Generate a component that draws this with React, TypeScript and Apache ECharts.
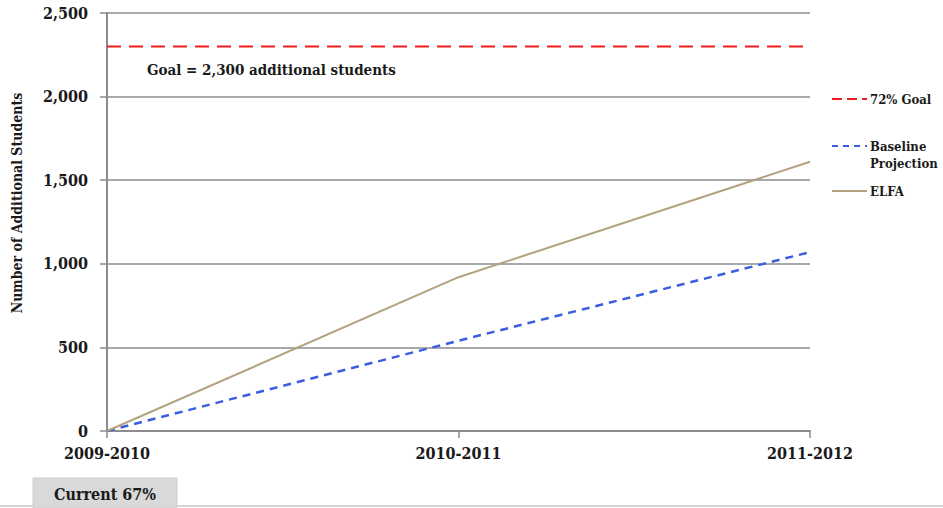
import React, { useEffect, useRef } from "react";
import * as echarts from "echarts";

const categories = ["2009-2010", "2010-2011", "2011-2012"];
const goalValues = [2300, 2300, 2300];
const baselineValues = [0, 540, 1070];
const elfaValues = [0, 920, 1610];
const yTicks = { min: 0, max: 2500, interval: 500 };

const FONT = "'DejaVu Serif Condensed', 'DejaVu Serif', serif";
const TEXT = "#1a1a1a";

export default function App() {
  const ref = useRef<HTMLDivElement>(null);
  useEffect(() => {
    if (!ref.current) return;
    const chart = echarts.init(ref.current, null, { renderer: "svg" });
    chart.setOption({
      animation: false,
      backgroundColor: "#ffffff",
      grid: { left: 107, right: 133, top: 13, bottom: 77, containLabel: false },
      xAxis: {
        type: "category",
        data: categories,
        boundaryGap: false,
        axisLine: { lineStyle: { color: "#8c8c8c", width: 2 } },
        axisTick: { show: true, length: 7, lineStyle: { color: "#8c8c8c", width: 1.5 } },
        axisLabel: {
          margin: 14,
          color: TEXT,
          fontFamily: FONT,
          fontWeight: "bold",
          fontSize: 16,
        },
      },
      yAxis: {
        type: "value",
        min: yTicks.min,
        max: yTicks.max,
        interval: yTicks.interval,
        axisLine: { show: true, lineStyle: { color: "#8c8c8c", width: 2 } },
        axisTick: { show: true, length: 7, lineStyle: { color: "#8c8c8c", width: 1.5 } },
        splitLine: { lineStyle: { color: "#8c8c8c", width: 1.5 } },
        axisLabel: {
          margin: 19,
          color: TEXT,
          fontFamily: FONT,
          fontWeight: "bold",
          fontSize: 16,
          formatter: (v: number) => v.toLocaleString("en-US"),
        },
      },
      series: [
        {
          name: "72% Goal",
          type: "line",
          data: goalValues,
          symbol: "none",
          lineStyle: { color: "#ee1c1c", width: 2, type: [14, 8] },
        },
        {
          name: "Baseline Projection",
          type: "line",
          data: baselineValues,
          symbol: "none",
          lineStyle: { color: "#3a5ee0", width: 2.5, type: [8, 6] },
        },
        {
          name: "ELFA",
          type: "line",
          data: elfaValues,
          symbol: "none",
          lineStyle: { color: "#b3a27f", width: 2 },
        },
      ],
      graphic: [
        {
          type: "text",
          x: 147,
          y: 70,
          style: {
            text: "Goal = 2,300 additional students",
            fill: TEXT,
            font: `bold 15px ${FONT}`,
            verticalAlign: "middle",
          },
        },
        {
          type: "text",
          x: 17,
          y: 203,
          rotation: Math.PI / 2,
          style: {
            text: "Number of Additional Students",
            fill: TEXT,
            font: `bold 14px ${FONT}`,
            align: "center",
            verticalAlign: "middle",
          },
        },
        // legend
        {
          type: "line",
          shape: { x1: 832, y1: 99, x2: 867, y2: 99 },
          style: { stroke: "#ee1c1c", lineWidth: 2, lineDash: [10, 5] },
        },
        {
          type: "text",
          x: 870,
          y: 99,
          style: { text: "72% Goal", fill: TEXT, font: `bold 13px ${FONT}`, verticalAlign: "middle" },
        },
        {
          type: "line",
          shape: { x1: 832, y1: 146, x2: 867, y2: 146 },
          style: { stroke: "#3a5ee0", lineWidth: 2, lineDash: [6, 5] },
        },
        {
          type: "text",
          x: 870,
          y: 146,
          style: { text: "Baseline", fill: TEXT, font: `bold 13px ${FONT}`, verticalAlign: "middle" },
        },
        {
          type: "text",
          x: 870,
          y: 163,
          style: { text: "Projection", fill: TEXT, font: `bold 13px ${FONT}`, verticalAlign: "middle" },
        },
        {
          type: "line",
          shape: { x1: 832, y1: 191, x2: 867, y2: 191 },
          style: { stroke: "#b3a27f", lineWidth: 2 },
        },
        {
          type: "text",
          x: 870,
          y: 191,
          style: { text: "ELFA", fill: TEXT, font: `bold 13px ${FONT}`, verticalAlign: "middle" },
        },
        // bottom box
        {
          type: "line",
          shape: { x1: 0, y1: 506, x2: 943, y2: 506 },
          style: { stroke: "#d6d6d6", lineWidth: 2 },
        },
        {
          type: "rect",
          shape: { x: 33, y: 478, width: 144, height: 30 },
          style: { fill: "#d9d9d9", stroke: "#cfcfcf", lineWidth: 1 },
        },
        {
          type: "text",
          x: 105,
          y: 494,
          style: {
            text: "Current 67%",
            fill: TEXT,
            font: `bold 16px ${FONT}`,
            align: "center",
            verticalAlign: "middle",
          },
        },
      ],
    });
    return () => chart.dispose();
  }, []);
  return (
    <div
      ref={ref}
      style={{ position: "fixed", left: 0, top: 0, width: 943, height: 508 }}
    />
  );
}
